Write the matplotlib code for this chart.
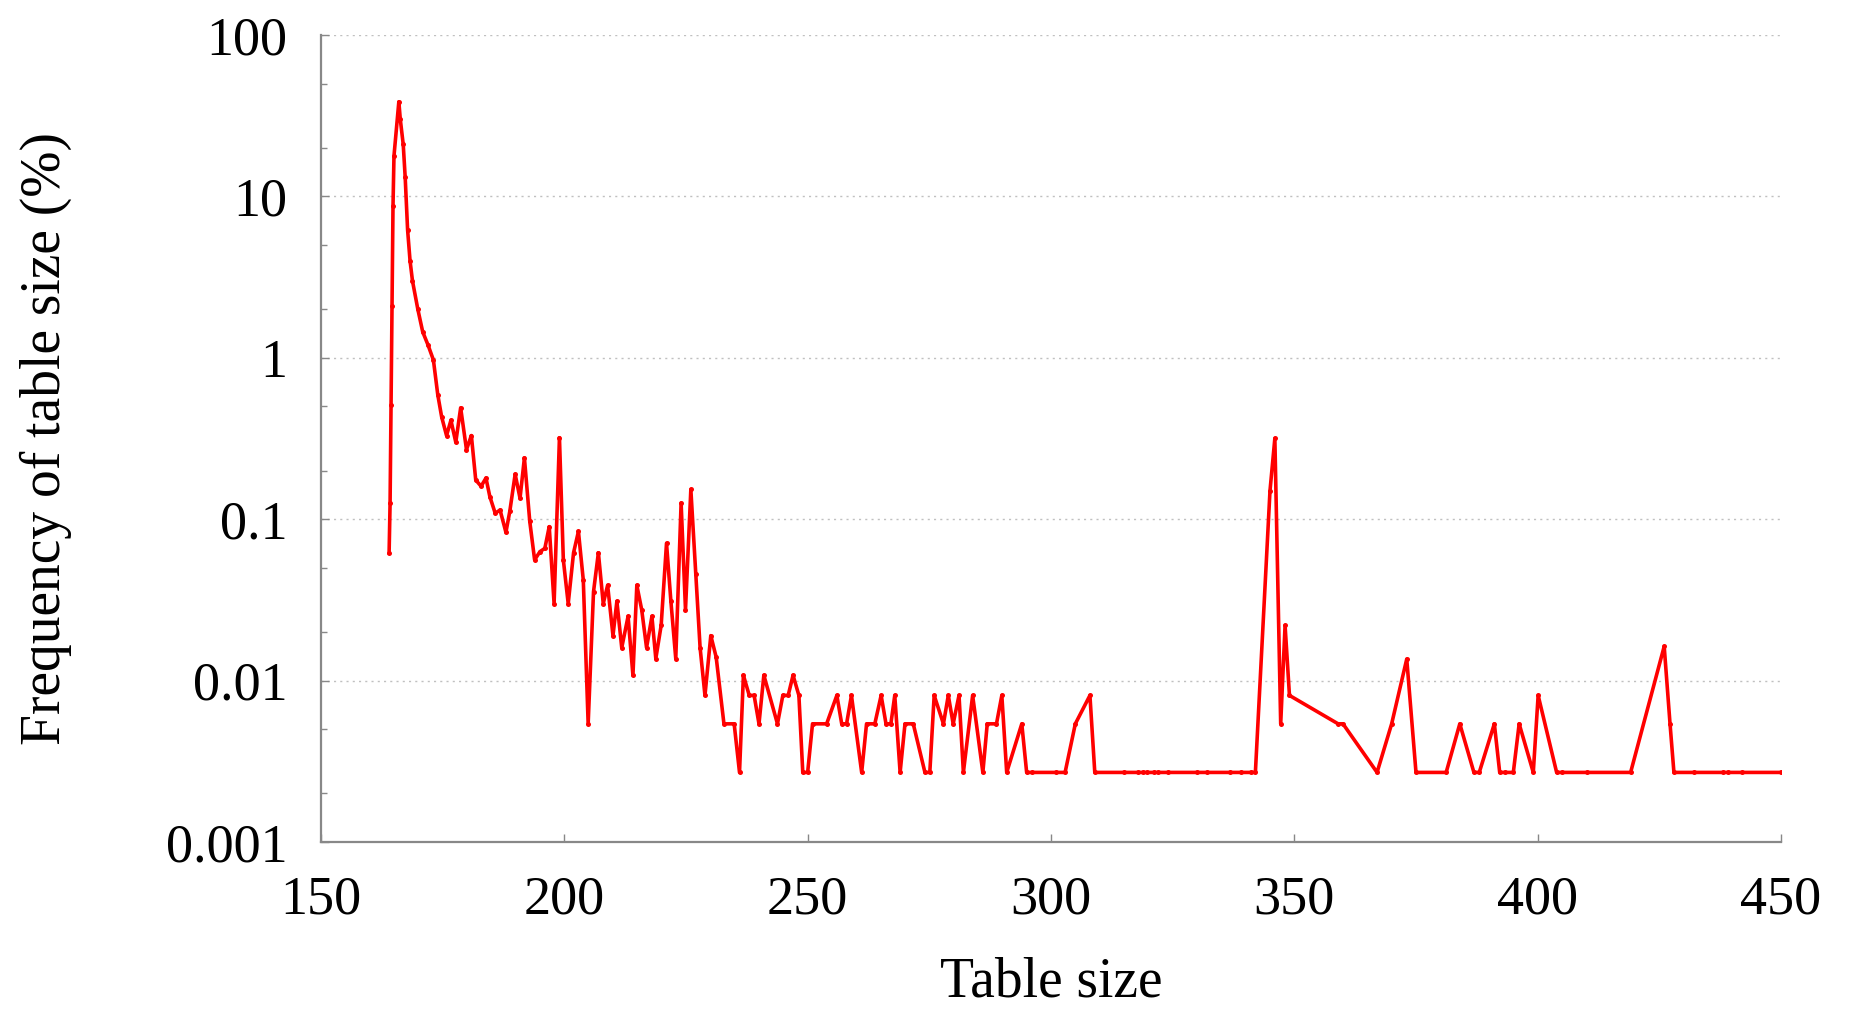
import numpy as np
import matplotlib
matplotlib.use('Agg')
import matplotlib.pyplot as plt
from matplotlib.ticker import LogLocator, FixedLocator, NullFormatter

# 读图得到的数据 (table size, frequency %)
table_size = [164.0, 164.2, 164.4, 164.6, 164.8, 165.0, 166.0, 166.3, 166.9, 167.3,
              167.8, 168.3, 168.8, 169.9, 170.9, 172.0, 173.1, 174.0, 174.8, 175.8,
              176.7, 177.7, 178.7, 179.9, 180.9, 181.8, 182.9, 183.9, 184.7, 185.8,
              186.8, 188.0, 188.8, 189.9, 190.9, 191.8, 192.9, 193.9, 195.0, 196.0,
              196.9, 197.9, 199.0, 199.8, 200.8, 201.9, 202.9, 203.9, 204.9, 206.0,
              207.0, 208.0, 208.9, 210.0, 210.8, 211.8, 213.1, 214.1, 214.9, 215.9,
              216.9, 218.0, 218.8, 219.9, 221.0, 221.9, 222.9, 224.0, 224.9, 226.0,
              227.0, 227.9, 228.9, 230.1, 231.2, 232.8, 234.9, 236.0, 236.8, 238.0,
              239.0, 240.0, 241.0, 243.8, 244.9, 246.0, 247.0, 248.2, 249.0, 250.0,
              251.0, 253.9, 256.0, 257.0, 258.0, 259.0, 261.1, 262.1, 263.8, 265.1,
              266.1, 267.1, 267.9, 269.0, 270.0, 271.7, 274.1, 275.1, 276.0, 277.9,
              278.9, 279.9, 281.1, 282.0, 283.9, 286.0, 286.9, 288.8, 289.9, 290.9,
              294.0, 295.0, 296.2, 301.0, 302.9, 305.0, 308.0, 309.0, 315.0, 317.9,
              319.0, 319.8, 321.2, 322.0, 324.0, 330.1, 332.0, 336.8, 339.0, 341.0,
              342.0, 345.0, 346.0, 347.2, 348.1, 349.0, 359.0, 360.0, 367.0, 370.0,
              373.1, 375.0, 381.2, 384.0, 386.9, 388.0, 391.1, 392.2, 393.3, 395.0,
              396.2, 399.1, 400.1, 403.9, 405.1, 410.1, 419.1, 426.0, 427.2, 428.0,
              432.1, 438.1, 439.2, 442.0, 450.0]
frequency = [0.062, 0.126, 0.51, 2.1, 8.7, 17.8, 38.6, 30.0, 21.0, 13.2,
             6.2, 4.0, 3.0, 2.0, 1.45, 1.2, 0.97, 0.59, 0.43, 0.33,
             0.41, 0.30, 0.49, 0.27, 0.33, 0.175, 0.16, 0.18, 0.138, 0.109,
             0.114, 0.083, 0.112, 0.19, 0.135, 0.24, 0.097, 0.056, 0.063, 0.066,
             0.09, 0.030, 0.32, 0.056, 0.030, 0.062, 0.084, 0.042, 0.0054, 0.0355,
             0.062, 0.030, 0.039, 0.019, 0.031, 0.016, 0.025, 0.0108, 0.039, 0.0275,
             0.016, 0.025, 0.0137, 0.022, 0.071, 0.031, 0.0137, 0.126, 0.0275, 0.153,
             0.046, 0.016, 0.0081, 0.019, 0.014, 0.0054, 0.0054, 0.0027, 0.0108, 0.0081,
             0.0081, 0.0054, 0.0108, 0.0054, 0.0081, 0.0081, 0.0108, 0.0081, 0.0027, 0.0027,
             0.0054, 0.0054, 0.0081, 0.0054, 0.0054, 0.0081, 0.0027, 0.0054, 0.0054, 0.0081,
             0.0054, 0.0054, 0.0081, 0.0027, 0.0054, 0.0054, 0.0027, 0.0027, 0.0081, 0.0054,
             0.0081, 0.0054, 0.0081, 0.0027, 0.0081, 0.0027, 0.0054, 0.0054, 0.0081, 0.0027,
             0.0054, 0.0027, 0.0027, 0.0027, 0.0027, 0.0054, 0.0081, 0.0027, 0.0027, 0.0027,
             0.0027, 0.0027, 0.0027, 0.0027, 0.0027, 0.0027, 0.0027, 0.0027, 0.0027, 0.0027,
             0.0027, 0.15, 0.317, 0.0054, 0.022, 0.0081, 0.0054, 0.0054, 0.0027, 0.0054,
             0.0136, 0.0027, 0.0027, 0.0054, 0.0027, 0.0027, 0.0054, 0.0027, 0.0027, 0.0027,
             0.0054, 0.0027, 0.0081, 0.0027, 0.0027, 0.0027, 0.0027, 0.0163, 0.0054, 0.0027,
             0.0027, 0.0027, 0.0027, 0.0027, 0.0027]

x_ticks = [150, 200, 250, 300, 350, 400, 450]
y_ticks = [0.001, 0.01, 0.1, 1, 10, 100]
y_tick_labels = ['0.001', '0.01', '0.1', '1', '10', '100']

plt.rcParams['font.family'] = ['Liberation Serif', 'DejaVu Serif']

fig = plt.figure(figsize=(18.5, 10.15), dpi=100)
ax = fig.add_axes([0.1735, 0.1704, 0.7892, 0.7951])

ax.plot(table_size, frequency, color='#ff0000', linewidth=2.6,
        marker='o', markersize=3.6, markeredgewidth=0)

ax.set_yscale('log')
ax.set_xlim(150, 450)
ax.set_ylim(0.001, 100)

ax.set_xticks(x_ticks)
ax.set_xticklabels([str(t) for t in x_ticks])
ax.yaxis.set_major_locator(FixedLocator(y_ticks))
ax.set_yticklabels(y_tick_labels)
ax.yaxis.set_minor_locator(LogLocator(base=10, subs=(2.0, 5.0)))
ax.yaxis.set_minor_formatter(NullFormatter())

# 只画水平虚线网格
ax.grid(True, axis='y', which='major', linestyle=(0, (1.5, 3)), color='#c0c0c0', linewidth=1.0)
ax.set_axisbelow(True)

for s in ['top', 'right']:
    ax.spines[s].set_visible(False)
for s in ['left', 'bottom']:
    ax.spines[s].set_color('#888888')
    ax.spines[s].set_linewidth(1.6)

ax.tick_params(axis='both', which='major', direction='in', length=6, width=1.0,
               color='#888888', labelsize=39, pad=24)
ax.tick_params(axis='y', which='minor', direction='in', length=4, width=1.0, color='#888888')

ax.set_xlabel('Table size', fontsize=40, labelpad=22)
ax.set_ylabel('Frequency of table size (%)', fontsize=40, labelpad=68)

plt.savefig('out.png', dpi=100)
